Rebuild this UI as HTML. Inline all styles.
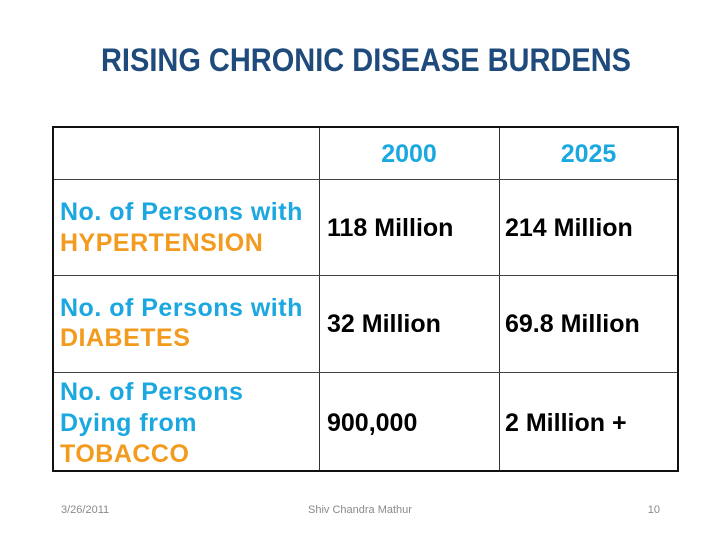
<!DOCTYPE html>
<html>
<head>
<meta charset="utf-8">
<style>
  html, body { margin: 0; padding: 0; }
  body { width: 720px; height: 540px; background: #ffffff; position: relative; overflow: hidden;
         font-family: "Liberation Sans", Arial, sans-serif; }
  .abs { position: absolute; white-space: nowrap; }
  .title { left: 101px; top: 44px; font-size: 32px; line-height: 32px; font-weight: bold; color: #1F4A7C;
           transform-origin: 0 0; transform: scaleX(0.906); }
  .t { font-size: 25px; line-height: 25px; font-weight: bold; }
  .blue { color: #1BA8E0; }
  .orange { color: #F29B1E; }
  .blk { color: #000; }
  .lc { letter-spacing: 0.5px; }
  .box { position: absolute; left: 52px; top: 126px; width: 623px; height: 342px; border: 2px solid #111; }
  .vl { position: absolute; width: 1px; background: #333; top: 128px; height: 342px; }
  .hl { position: absolute; height: 1px; background: #444; left: 54px; width: 623px; }
  .foot { font-size: 11px; line-height: 11px; color: #8a8a8a; top: 505px; }
</style>
</head>
<body>
  <div class="abs title">RISING CHRONIC DISEASE BURDENS</div>

  <div class="box"></div>
  <div class="vl" style="left:319px;"></div>
  <div class="vl" style="left:499px;"></div>
  <div class="hl" style="top:179px;"></div>
  <div class="hl" style="top:275px;"></div>
  <div class="hl" style="top:372px;"></div>

  <!-- header -->
  <div class="abs t blue" style="left:319px; width:180px; text-align:center; top:142px;">2000</div>
  <div class="abs t blue" style="left:499px; width:179px; text-align:center; top:142px;">2025</div>

  <!-- row 1 -->
  <div class="abs t blue lc" style="left:60px; top:200px;">No. of Persons with</div>
  <div class="abs t orange lc" style="left:60px; top:231px;">HYPERTENSION</div>
  <div class="abs t blk" style="left:327px; top:216px;">118 Million</div>
  <div class="abs t blk" style="left:505px; top:216px;">214 Million</div>

  <!-- row 2 -->
  <div class="abs t blue lc" style="left:60px; top:296px;">No. of Persons with</div>
  <div class="abs t orange lc" style="left:60px; top:326px;">DIABETES</div>
  <div class="abs t blk" style="left:327px; top:312px;">32 Million</div>
  <div class="abs t blk" style="left:505px; top:312px;">69.8 Million</div>

  <!-- row 3 -->
  <div class="abs t blue lc" style="left:60px; top:380px;">No. of Persons</div>
  <div class="abs t blue lc" style="left:60px; top:411px;">Dying from</div>
  <div class="abs t orange lc" style="left:60px; top:442px;">TOBACCO</div>
  <div class="abs t blk" style="left:327px; top:411px;">900,000</div>
  <div class="abs t blk" style="left:505px; top:411px;">2 Million +</div>

  <!-- footer -->
  <div class="abs foot" style="left:61px;">3/26/2011</div>
  <div class="abs foot" style="left:260px; width:200px; text-align:center;">Shiv Chandra Mathur</div>
  <div class="abs foot" style="left:610px; width:50px; text-align:right;">10</div>
</body>
</html>
